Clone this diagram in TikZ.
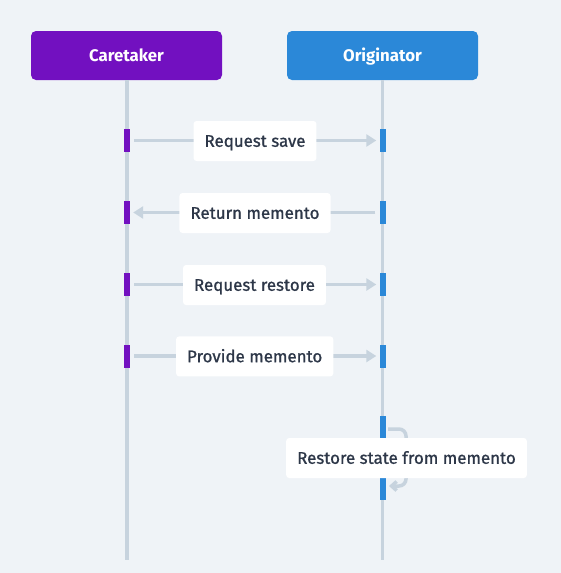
\documentclass[tikz,border=0pt]{standalone}
\usepackage{fontspec}
\setmainfont{Fira Sans}
\newfontfamily\medfont{Fira Sans}[FakeBold=1]
\usetikzlibrary{arrows.meta}
\definecolor{bgc}{HTML}{EFF3F7}
\definecolor{purp}{HTML}{7210C0}
\definecolor{blu}{HTML}{2B88D8}
\definecolor{linec}{HTML}{C7D3DE}
\definecolor{txt}{HTML}{2D3748}
\tikzset{
  header/.style={rounded corners=5pt, minimum width=191pt, minimum height=49pt, text=white, font=\fontsize{16.8}{19}\selectfont\bfseries, inner sep=0pt, text height=11.5pt, text depth=0pt},
  lifeline/.style={draw=linec, line width=3.5pt},
  cbar/.style={fill=purp, minimum width=6pt, minimum height=23pt, inner sep=0pt},
  obar/.style={fill=blu, minimum width=6pt, minimum height=23pt, inner sep=0pt},
  msg/.style={draw=linec, line width=3.5pt, -{Triangle[length=10pt,width=12pt]}},
  lbl/.style={fill=white, rounded corners=3pt, text=txt, font=\medfont\fontsize{16.9}{19}\selectfont, minimum height=40pt, inner xsep=11pt, inner ysep=0pt, text height=11.6pt, text depth=0pt}
}
\begin{document}
\begin{tikzpicture}[x=1pt,y=-1pt]
\fill[bgc] (0,0) rectangle (561,573);
\useasboundingbox (0,0) rectangle (561,573);
% headers
\node[header, fill=purp] (care) at (126.5,55.5) {Caretaker};
\node[header, fill=blu] (orig) at (382.5,55.5) {Originator};
\coordinate (careend) at (127,560);
\coordinate (origend) at (382.5,560);
\draw[lifeline] (care.south -| careend) -- (careend);
\draw[lifeline] (orig.south -| origend) -- (origend);
% activation bars
\node[cbar] (c1) at (127,140.5) {};
\node[obar] (o1) at (382.5,140.5) {};
\node[cbar] (c2) at (127,212.5) {};
\node[obar] (o2) at (382.5,212.5) {};
\node[cbar] (c3) at (127,284.5) {};
\node[obar] (o3) at (382.5,284.5) {};
\node[cbar] (c4) at (127,356) {};
\node[obar] (o4) at (382.5,356) {};
\node[obar, minimum height=84pt] (o5) at (382.5,458) {};
% messages
\draw[msg, shorten <=4pt, shorten >=3pt] (c1.east) -- (o1.west);
\draw[msg, shorten <=4pt, shorten >=3pt] (o2.west) -- (c2.east);
\draw[msg, shorten <=4pt, shorten >=3pt] (c3.east) -- (o3.west);
\draw[msg, shorten <=4pt, shorten >=3pt] (c4.east) -- (o4.west);
\coordinate (s1) at (388,429);
\coordinate (s2) at (406,429);
\coordinate (s3) at (406,486);
\coordinate (s4) at (389,486);
\draw[draw=linec, line width=3.5pt, rounded corners=7pt, -{Straight Barb[length=5pt,width=9pt]}] (s1) -- (s2) -- (s3) -- (s4);
% labels
\node[lbl] (l1) at (255,141) {Request save};
\node[lbl] (l2) at (255,213) {Return memento};
\node[lbl] (l3) at (254.5,285) {Request restore};
\node[lbl] (l4) at (254.7,356.4) {Provide memento};
\node[lbl] (l5) at (406.5,458) {Restore state from memento};
\end{tikzpicture}
\end{document}
